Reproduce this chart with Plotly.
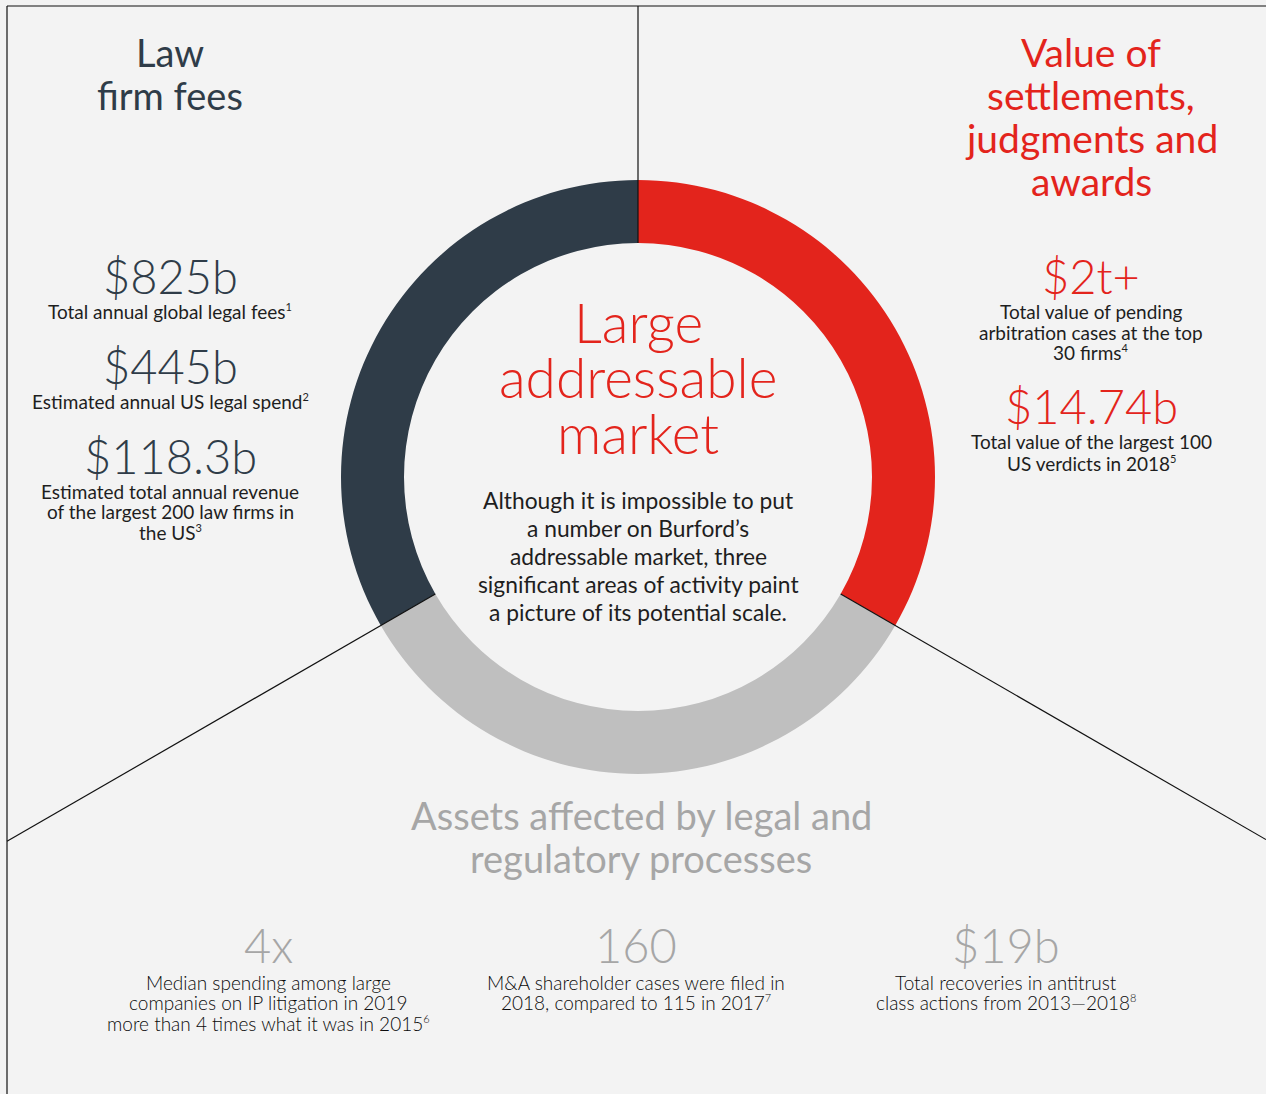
import plotly.graph_objects as go
import numpy as np

W, H = 1266, 1094


def sup(n):
    return "<sup><span style='font-size:11px'>%s</span></sup>" % n


# ---- data ----
segments = ["Value of settlements, judgments and awards",
            "Assets affected by legal and regulatory processes",
            "Law firm fees"]
segment_share = [1, 1, 1]
segment_colors = ["#e3241c", "#bfbfbf", "#2f3c48"]

left_title = ["Law", "firm fees"]
left_values = ["$825b", "$445b", "$118.3b"]
left_notes = [["Total annual global legal fees" + sup(1)],
              ["Estimated annual US legal spend" + sup(2)],
              ["Estimated total annual revenue", "of the largest 200 law firms in",
               "the US" + sup(3)]]

right_title = ["Value of", "settlements,", "judgments and", "awards"]
right_values = ["$2t+", "$14.74b"]
right_notes = [["Total value of pending", "arbitration cases at the top",
                "30 firms" + sup(4)],
               ["Total value of the largest 100", "US verdicts in 2018" + sup(5)]]

center_title = ["Large", "addressable", "market"]
center_body = ["Although it is impossible to put", "a number on Burford\u2019s",
               "addressable market, three", "significant areas of activity paint",
               "a picture of its potential scale."]

bottom_title = ["Assets affected by legal and", "regulatory processes"]
bottom_values = ["4x", "160", "$19b"]
bottom_notes = [["Median spending among large", "companies on IP litigation in 2019",
                 "more than 4 times what it was in 2015" + sup(6)],
                ["M&A shareholder cases were filed in",
                 "2018, compared to 115 in 2017" + sup(7)],
                ["Total recoveries in antitrust",
                 "class actions from 2013\u20142018" + sup(8)]]

# ---- style ----
BG = "#f3f3f3"
NAVY = "#2f3c48"
RED = "#e3241c"
GREY_TXT = "#a6a6a6"
DARK = "#1e1e1e"
FONT = "Lato"

CX, CY, R_OUT, R_IN = 638, 477, 297, 234


def P(x, y):
    return x / W, 1 - y / H


fig = go.Figure()
fig.add_trace(go.Pie(
    labels=segments, values=segment_share, sort=False, direction="clockwise",
    rotation=0, hole=R_IN / R_OUT, textinfo="none", hoverinfo="label",
    marker=dict(colors=segment_colors, line=dict(width=0)),
    domain=dict(x=[(CX - R_OUT) / W, (CX + R_OUT) / W],
                y=[1 - (CY + R_OUT) / H, 1 - (CY - R_OUT) / H]),
    showlegend=False,
))

annotations = []


def txt(text, x, y, size, color, weight=400):
    ax, ay = P(x, y)
    annotations.append(dict(text=text, x=ax, y=ay, xref="paper", yref="paper",
                            xanchor="center", yanchor="middle", showarrow=False,
                            font=dict(family=FONT, size=size, color=color,
                                      weight=weight)))


# left column
for line, y in zip(left_title, [52, 95]):
    txt(line, 170, y, 38, NAVY)
for val, y in zip(left_values, [276, 366, 456]):
    txt(val, 170, y, 47, NAVY, 300)
for notes, y0 in zip(left_notes, [311, 401, 491]):
    for i, line in enumerate(notes):
        txt(line, 170, y0 + 20.5 * i, 19, DARK)

# right column
for i, line in enumerate(right_title):
    txt(line, 1091, 52 + 43 * i, 39, RED)
for val, y in zip(right_values, [276, 406]):
    txt(val, 1091, y, 47, RED, 300)
for notes, y0 in zip(right_notes, [311, 442]):
    for i, line in enumerate(notes):
        txt(line, 1091, y0 + 21 * i, 19, DARK)

# centre
for i, line in enumerate(center_title):
    txt(line, 638, 322 + 55.5 * i, 55, RED, 300)
for i, line in enumerate(center_body):
    txt(line, 638, 500 + 28 * i, 22.8, DARK)

# bottom
for i, line in enumerate(bottom_title):
    txt(line, 641, 815 + 43 * i, 38, GREY_TXT)
for val, notes, x in zip(bottom_values, bottom_notes, [268, 636, 1006]):
    txt(val, x, 945, 47, GREY_TXT, 300)
    for i, line in enumerate(notes):
        txt(line, x, 982 + 20.5 * i, 19, "#0a0a0a", 300)

# ---- decorative lines ----
shapes = []


def seg(x0, y0, x1, y1, w=1.2):
    a0, b0 = P(x0, y0)
    a1, b1 = P(x1, y1)
    shapes.append(dict(type="line", xref="paper", yref="paper", x0=a0, y0=b0,
                       x1=a1, y1=b1, line=dict(color="#111111", width=w),
                       layer="above"))


# frame
seg(7, 6, 7, H)
seg(7, 6, W, 6)
# radial separators from inner ring outward
seg(CX, 6, CX, CY - R_IN)
for ang in [-30, 210]:
    t = np.deg2rad(ang)
    dx, dy = np.cos(t), -np.sin(t)
    x_start, y_start = CX + R_IN * dx, CY + R_IN * dy
    reach = ((W if dx > 0 else 7) - x_start) / dx
    seg(x_start, y_start, x_start + reach * dx, y_start + reach * dy)

fig.update_layout(
    width=W, height=H, margin=dict(l=0, r=0, t=0, b=0),
    paper_bgcolor=BG, plot_bgcolor=BG,
    annotations=annotations, shapes=shapes,
)

fig.write_html(
    "out.html",
    config={"displayModeBar": False},
    post_script="document.body.style.margin='0px';"
                "document.body.style.overflow='hidden';"
                "document.body.style.background='#f3f3f3';",
)
